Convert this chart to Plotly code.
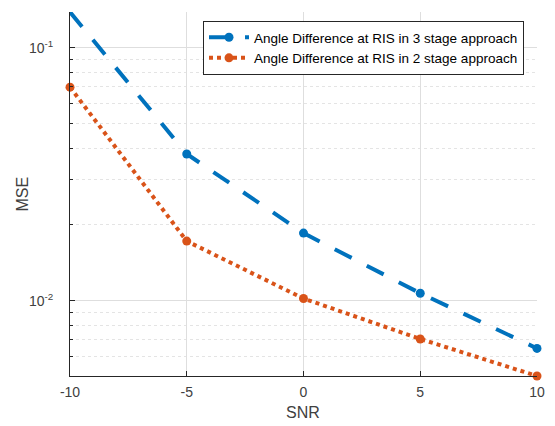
import numpy as np
import plotly.graph_objects as go

# SNR (dB) sweep and the mean squared error of each approach
snr = [-10, -5, 0, 5, 10]
mse_3stage = [0.1383, 0.0380, 0.0185, 0.0107, 0.00648]
mse_2stage = [0.0698, 0.0172, 0.0102, 0.00706, 0.00504]

names = [
    "Angle Difference at RIS in 3 stage approach",
    "Angle Difference at RIS in 2 stage approach",
]

x_ticks = [-10, -5, 0, 5, 10]
y_major = [0.01, 0.1]
y_major_text = ["10<sup>-2</sup>", "10<sup>-1</sup>"]

BLUE = "#0072BD"
ORANGE = "#D95319"
AXIS = "#262626"
LABEL = "#404040"
FONT = "Liberation Sans, Arial, Helvetica, sans-serif"

W, H = 555, 426
M = dict(l=70, r=18, t=12, b=50)

fig = go.Figure()
fig.add_trace(go.Scatter(
    x=snr, y=mse_3stage, name=names[0], mode="lines+markers",
    line=dict(color=BLUE, width=4, dash="19px,17px"),
    marker=dict(color=BLUE, size=9, symbol="circle"),
    cliponaxis=False,
))
fig.add_trace(go.Scatter(
    x=snr, y=mse_2stage, name=names[1], mode="lines+markers",
    line=dict(color=ORANGE, width=4, dash="dot"),
    marker=dict(color=ORANGE, size=9, symbol="circle"),
    cliponaxis=False,
))

# tight y-limits from the data, log scale
all_y = mse_3stage + mse_2stage
y_lo, y_hi = np.log10(min(all_y)), np.log10(max(all_y))

# minor grid values (2..9 x each decade) that fall inside the limits
minor_vals = [m * 10.0 ** d for d in range(-4, 1) for m in range(2, 10)
              if min(all_y) < m * 10.0 ** d < max(all_y)]

pw = W - M["l"] - M["r"]
ph = H - M["t"] - M["b"]

fig.update_layout(
    width=W, height=H,
    margin=M,
    paper_bgcolor="white", plot_bgcolor="white",
    font=dict(family=FONT, color=AXIS),
    showlegend=True,
    legend=dict(
        x=(524 - M["l"]) / pw, y=(H - M["b"] - 21) / ph,
        xanchor="right", yanchor="top",
        bgcolor="white", bordercolor=AXIS, borderwidth=1,
        font=dict(size=13.5, color="#000000", family=FONT),
        itemwidth=40, tracegroupgap=0,
    ),
    xaxis=dict(
        range=[min(snr), max(snr)],
        tickvals=x_ticks, ticktext=[str(v) for v in x_ticks],
        ticks="inside", ticklen=5, tickcolor=AXIS,
        showline=True, linecolor=AXIS, linewidth=1,
        showgrid=True, gridcolor="#dedede", gridwidth=1,
        zeroline=False, automargin=False,
        tickfont=dict(size=14, color=LABEL),
        ticklabelstandoff=3,
    ),
    yaxis=dict(
        type="log", range=[y_lo, y_hi],
        tickvals=y_major, ticktext=y_major_text,
        ticks="inside", ticklen=5, tickcolor=AXIS,
        showline=True, linecolor=AXIS, linewidth=1,
        showgrid=True, gridcolor="#dedede", gridwidth=1,
        zeroline=False, automargin=False,
        tickfont=dict(size=14, color=LABEL),
        ticklabelstandoff=13,
        minor=dict(
            tickvals=minor_vals, ticks="inside", ticklen=3, tickcolor=AXIS,
            showgrid=True, gridcolor="#e4e4e4", griddash="dot", gridwidth=1,
        ),
    ),
    annotations=[
        dict(text="SNR", xref="paper", yref="paper",
             x=(303 - M["l"]) / pw, y=-(412.5 - (H - M["b"])) / ph,
             xanchor="center", yanchor="middle", showarrow=False,
             font=dict(size=16, color=LABEL)),
        dict(text="MSE", xref="paper", yref="paper",
             x=-(M["l"] - 21.5) / pw, y=(H - M["b"] - 194) / ph,
             xanchor="center", yanchor="middle", showarrow=False,
             textangle=-90, font=dict(size=16, color=LABEL)),
    ],
)

fig.write_html("out.html")
